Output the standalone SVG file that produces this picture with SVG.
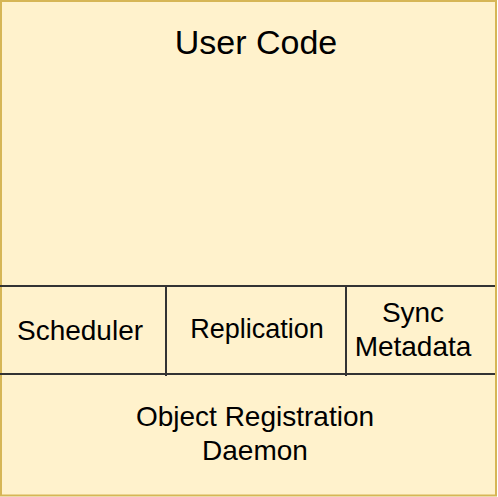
<svg xmlns="http://www.w3.org/2000/svg" width="498" height="497" viewBox="0 0 498 497">
  <style>
    .frame { fill: #fff2cc; stroke: #d6b656; stroke-width: 2; }
    .divider { stroke: #333333; stroke-width: 2; fill: none; }
    .label { font-family: "Liberation Sans", Arial, Helvetica, sans-serif; fill: #000000; text-anchor: middle; }
    .title { font-size: 34px; }
    .small { font-size: 28px; }
  </style>

  <!-- outer stack frame -->
  <g id="user-code">
    <rect class="frame" x="1" y="1" width="495" height="494.5"/>
    <text class="label title" x="256" y="54">User Code</text>
  </g>

  <!-- layer dividers -->
  <g id="connectors">
    <line class="divider" x1="0" y1="286" x2="495" y2="286"/>
    <line class="divider" x1="0" y1="374" x2="495" y2="374"/>
    <line class="divider" x1="166" y1="286" x2="166" y2="376"/>
    <line class="divider" x1="346" y1="286" x2="346" y2="376"/>
  </g>

  <g id="scheduler">
    <text class="label small" x="80" y="340">Scheduler</text>
  </g>

  <g id="replication">
    <text class="label small" x="257" y="338" style="font-size:27px">Replication</text>
  </g>

  <g id="sync-metadata">
    <text class="label small" x="413" y="322">Sync</text>
    <text class="label small" x="413" y="356">Metadata</text>
  </g>

  <g id="object-registration-daemon">
    <text class="label small" x="255" y="426">Object Registration</text>
    <text class="label small" x="255" y="460">Daemon</text>
  </g>
</svg>
